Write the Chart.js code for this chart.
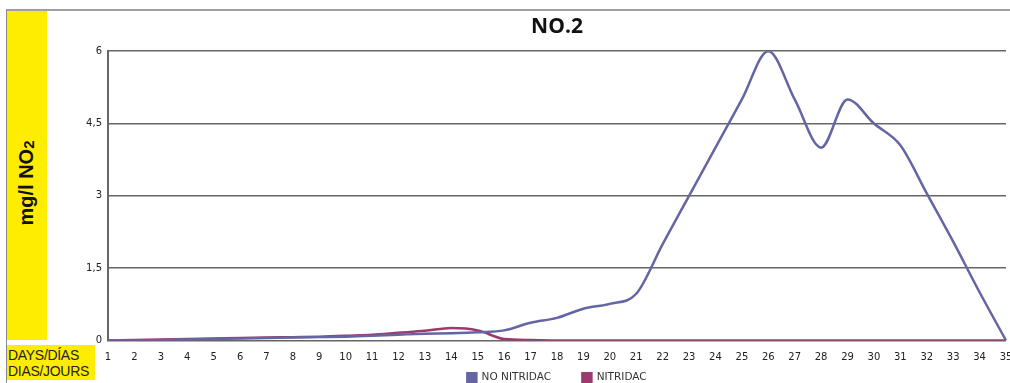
<!DOCTYPE html>
<html>
<head>
<meta charset="utf-8">
<script src="https://cdn.jsdelivr.net/npm/chart.js@4.4.1/dist/chart.umd.min.js"></script>
<style>
  html, body { margin: 0; padding: 0; background: #fff; overflow: hidden; }
  #wrap { position: relative; width: 1010px; height: 383px; overflow: hidden; }
  #frame { position: absolute; left: 6px; top: 9px; width: 1010px; height: 380px;
           border-top: 2px solid #a0a0a0; border-left: 1px solid #8a8a8a; }
  #band { position: absolute; left: 7px; top: 11px; width: 40px; height: 329px; background: #ffed00; }
  #ytitle { position: absolute; left: 26px; top: 183px; transform: translate(-50%, -50%) rotate(-90deg);
            font: bold 20px "Liberation Sans", Arial, sans-serif; color: #111; white-space: nowrap; }
  #ytitle sub { font-size: 15px; vertical-align: -1px; font-weight: bold; }
  #days { position: absolute; left: 7px; top: 345px; width: 88px; height: 35px; background: #ffed00;
          font: 14px/16px "Liberation Sans", Arial, sans-serif; color: #222; letter-spacing: -0.3px;
          padding-left: 1px; box-sizing: border-box; padding-top: 2px; }
  canvas { position: absolute; left: 0; top: 0; }
</style>
</head>
<body>
<div id="wrap">
  <div id="frame"></div>
  <div id="band"></div>
  <div id="ytitle">mg/l NO<sub>2</sub></div>
  <div id="days">DAYS/DÍAS<br>DIAS/JOURS</div>
  <canvas id="chart" width="1010" height="393"></canvas>
</div>
<script>
'use strict'

// days 1..35
const days = [];
for (let d = 1; d <= 35; d++) days.push(String(d));

const noNitridac = [0, 0, 0.01, 0.02, 0.03, 0.04, 0.05, 0.06, 0.07, 0.08,
  0.1, 0.12, 0.14, 0.15, 0.17, 0.21, 0.37, 0.47, 0.66, 0.76,
  0.97, 2.0, 3.0, 4.0, 5.0, 6.0, 5.0, 4.0, 5.0, 4.5,
  4.05, 3.05, 2.05, 1.0, 0];

const nitridac = [0, 0.01, 0.02, 0.03, 0.04, 0.05, 0.06, 0.07, 0.08, 0.1,
  0.12, 0.16, 0.2, 0.26, 0.21, 0.03, 0.01, 0, 0, 0,
  0, 0, 0, 0, 0, 0, 0, 0, 0, 0,
  0, 0, 0, 0, 0];

const yTicks = [0, 1.5, 3, 4.5, 6];

// legend items with a bit more room between them
const baseLabels = Chart.defaults.plugins.legend.labels.generateLabels;
const spacedLabels = (chart) => baseLabels(chart).map((item, i) => {
    if (i === 0) item.text = item.text + '\u00a0\u00a0\u00a0\u00a0\u00a0\u00a0\u00a0';
    return item;
});

const ctx = document.getElementById('chart').getContext('2d');
const myChart = new Chart(ctx, {
    type: 'line',
    data: {
        labels: days,
        datasets: [{
            label: 'NO NITRIDAC',
            data: noNitridac,
            borderColor: '#6466a3',
            backgroundColor: '#6466a3',
            borderWidth: 2.5,
            pointRadius: 0,
            cubicInterpolationMode: 'monotone',
            fill: false
        }, {
            label: 'NITRIDAC',
            data: nitridac,
            borderColor: '#9c3a6e',
            backgroundColor: '#9c3a6e',
            borderWidth: 2.5,
            pointRadius: 0,
            cubicInterpolationMode: 'monotone',
            fill: false
        }]
    },
    options: {
        responsive: false,
        animation: false,
        layout: { padding: { left: 64, right: 0, top: 14, bottom: 0 } },
        plugins: {
            tooltip: { enabled: false },
            title: {
                display: true,
                text: 'NO.2',
                fullSize: false,
                color: '#111',
                font: { family: 'Open Sans', size: 21, weight: 'bold' },
                padding: { top: 0, bottom: 12 }
            },
            legend: {
                position: 'bottom',
                fullSize: false,
                labels: {
                    boxWidth: 9,
                    boxHeight: 9,
                    padding: 8,
                    color: '#333',
                    font: { family: 'DejaVu Sans', size: 10.5 },
                    generateLabels: spacedLabels
                }
            }
        },
        scales: {
            x: {
                offset: false,
                grid: { display: false, tickLength: 0 },
                border: { display: false },
                afterFit: (scale) => { scale.paddingRight = 4; scale.height = 24; },
                ticks: {
                    color: '#222',
                    font: { family: 'DejaVu Sans', size: 10 },
                    maxRotation: 0,
                    autoSkip: false,
                    padding: 11
                }
            },
            y: {
                min: 0,
                max: 6,
                afterFit: (scale) => { scale.width = 44; },
                afterBuildTicks: (scale) => { scale.ticks = yTicks.map(v => ({ value: v })); },
                grid: { color: '#666', lineWidth: 1.6, drawTicks: false },
                border: { display: true, color: '#666', width: 2 },
                ticks: {
                    color: '#222',
                    padding: 6,
                    font: { family: 'DejaVu Sans', size: 10 },
                    callback: (v) => String(v).replace('.', ',')
                }
            }
        }
    }
});
</script>
</body>
</html>
